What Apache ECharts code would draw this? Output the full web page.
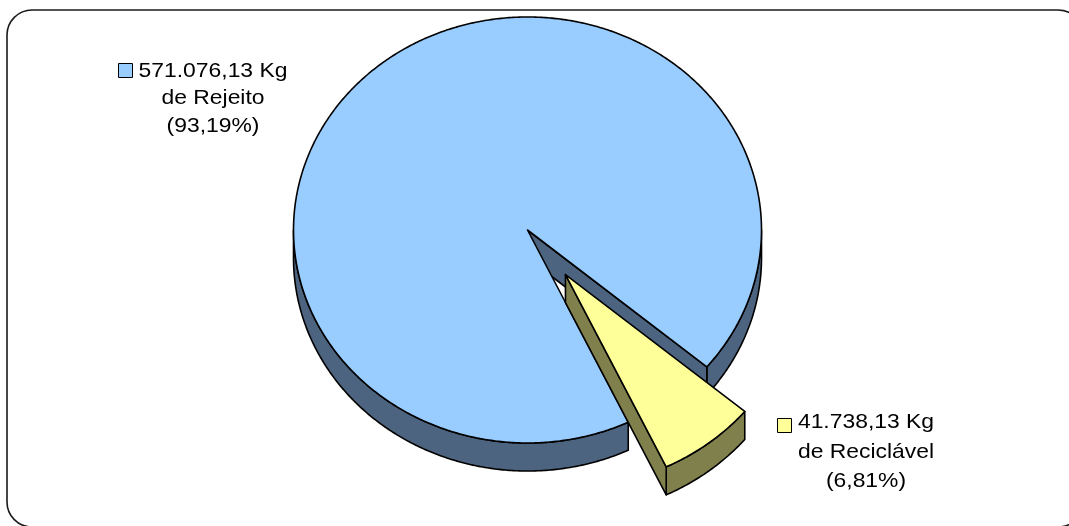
<!DOCTYPE html>
<html><head><meta charset="utf-8">
<script src="https://cdn.jsdelivr.net/npm/echarts@6/dist/echarts.min.js"></script>
<style>html,body{margin:0;padding:0;background:#fff}#c{width:1069px;height:526px}</style>
</head><body><div id="c"></div>
<script>
// ---- data ----
const categories = ['Rejeito', 'Reciclável'];
const values = [571076.13, 41738.13];
const unit = 'Kg';
const exploded = [false, true];

// ---- style / layout ----
const topColors = ['#99CCFF', '#FFFF99'];
const sideColors = ['#4D6480', '#80804D'];
const G = {cx: 527.5, cy: 230, rx: 234, ry: 213, depth: 28, explode: 62, start: 64.5};
const labelLayout = [
  {x: 213, y: 98.5, lh: 27.5, kx: 118, ky: 63},
  {x: 866, y: 452, lh: 29.5, kx: 777, ky: 418}
];

function fmtBR(v) {
  const parts = v.toFixed(2).split('.');
  return parts[0].replace(/\B(?=(\d{3})+(?!\d))/g, '.') + ',' + parts[1];
}
const total = values.reduce((a, b) => a + b, 0);
const pct = values.map(v => (v / total * 100).toFixed(2).replace('.', ','));
const RAD = Math.PI / 180;

function renderItem(params, api) {
  const i = params.dataIndex;
  let a0 = G.start;
  for (let k = 0; k < i; k++) a0 += values[k] / total * 360;
  const a1 = a0 + api.value(0) / total * 360;
  const mid = (a0 + a1) / 2 * RAD;
  const ex = exploded[i] ? G.explode : 0;
  const ox = G.cx + ex * Math.cos(mid);
  const oy = G.cy + ex * Math.sin(mid) * G.ry / G.rx;
  const P = (deg, dz) => [ox + G.rx * Math.cos(deg * RAD), oy + G.ry * Math.sin(deg * RAD) + (dz || 0)];
  const st = fill => ({fill: fill, stroke: '#000', lineWidth: 1.6, lineJoin: 'round'});
  const children = [];
  // outer walls (front half only)
  for (let n = -1; n <= 2; n++) {
    const lo = Math.max(a0, 360 * n), hi = Math.min(a1, 360 * n + 180);
    if (hi > lo) {
      const N = Math.max(2, Math.ceil((hi - lo) / 0.5));
      const top = [], bot = [];
      for (let k = 0; k <= N; k++) {
        const d = lo + (hi - lo) * k / N;
        top.push(P(d, 0)); bot.push(P(d, G.depth));
      }
      children.push({type: 'polygon', shape: {points: top.concat(bot.reverse())}, style: st(sideColors[i])});
    }
  }
  // radial faces
  const C0 = [ox, oy], C1 = [ox, oy + G.depth];
  if (Math.cos(a0 * RAD) < 0) children.push({type: 'polygon', shape: {points: [C0, P(a0, 0), P(a0, G.depth), C1]}, style: st(sideColors[i])});
  if (Math.cos(a1 * RAD) > 0) children.push({type: 'polygon', shape: {points: [C0, P(a1, 0), P(a1, G.depth), C1]}, style: st(sideColors[i])});
  // top face
  const pts = [C0];
  const N = Math.max(2, Math.ceil((a1 - a0) / 0.5));
  for (let k = 0; k <= N; k++) pts.push(P(a0 + (a1 - a0) * k / N, 0));
  children.push({type: 'polygon', shape: {points: pts}, style: st(topColors[i])});
  return {type: 'group', children: children};
}

const graphics = [{
  type: 'rect', z: 0,
  shape: {x: 7, y: 10, width: 1076, height: 517, r: 25},
  style: {fill: 'none', stroke: '#1a1a1a', lineWidth: 1.6}
}];
categories.forEach((c, i) => {
  const L = labelLayout[i];
  graphics.push({
    type: 'text', x: L.x, y: L.y, scaleX: 1.09, z: 10,
    style: {
      text: fmtBR(values[i]) + ' ' + unit + '\nde ' + c + '\n(' + pct[i] + '%)',
      fontFamily: 'Liberation Sans', fontSize: 21, fill: '#000',
      align: 'center', verticalAlign: 'middle', lineHeight: L.lh
    }
  });
  graphics.push({
    type: 'rect', z: 10,
    shape: {x: L.kx + 0.5, y: L.ky + 0.5, width: 14, height: 14},
    style: {fill: topColors[i], stroke: '#000', lineWidth: 1}
  });
});

const chart = echarts.init(document.getElementById('c'), null, {renderer: 'canvas'});
chart.setOption({
  animation: false,
  backgroundColor: '#fff',
  graphic: graphics,
  series: [{
    type: 'custom', coordinateSystem: 'none', silent: true,
    renderItem: renderItem,
    data: values.map(v => [v])
  }]
});
</script></body></html>
